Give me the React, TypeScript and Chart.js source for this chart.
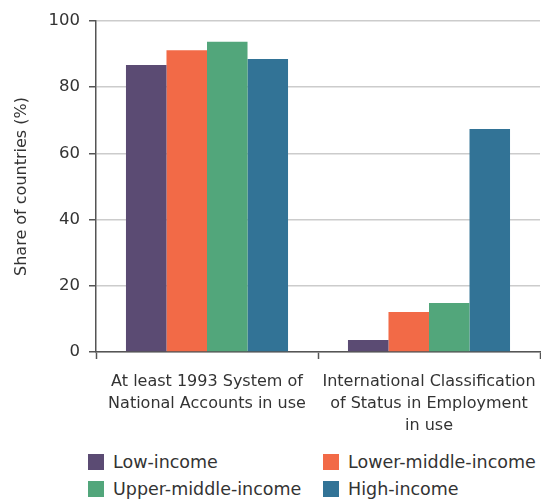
import React, { useEffect, useRef } from "react";
import { Chart, registerables } from "chart.js";
Chart.register(...registerables);

const categories: string[][] = [
  ["At least 1993 System of", "National Accounts in use"],
  ["International Classification", "of Status in Employment", "in use"],
];
const seriesNames = ["Low-income", "Lower-middle-income", "Upper-middle-income", "High-income"];
const lowIncome = [86.7, 3.6];
const lowerMiddle = [91.2, 12.1];
const upperMiddle = [93.7, 14.8];
const highIncome = [88.5, 67.4];
const colors = ["#5B4B73", "#F26A47", "#52A67B", "#327396"];
const yTicks = [0, 20, 40, 60, 80, 100];

const FONT = "DejaVu Sans";
const TEXT = "#333333";

export default function App() {
  const ref = useRef<HTMLCanvasElement | null>(null);
  useEffect(() => {
    if (!ref.current) return;
    const values = [lowIncome, lowerMiddle, upperMiddle, highIncome];
    const chart = new Chart(ref.current, {
      type: "bar",
      data: {
        labels: categories,
        datasets: seriesNames.map((n, i) => ({
          label: n,
          data: values[i],
          backgroundColor: colors[i],
          borderWidth: 0,
          categoryPercentage: 0.73,
          barPercentage: 1.0,
        })),
      },
      options: {
        animation: false,
        responsive: false,
        maintainAspectRatio: false,
        layout: { padding: { top: 21, right: 1, left: 0, bottom: 0 } },
        plugins: { legend: { display: false }, tooltip: { enabled: false } },
        scales: {
          x: {
            afterFit: (axis: any) => {
              axis.height = 88;
              axis.paddingLeft = 0;
              axis.paddingRight = 0;
            },
            grid: { display: true, drawOnChartArea: false, drawTicks: true, tickLength: 7, tickColor: "#555", tickWidth: 1.5 },
            border: { color: "#555", width: 1.5 },
            ticks: { color: TEXT, font: { family: FONT, size: 16, lineHeight: 1.37 }, padding: 12, maxRotation: 0, autoSkip: false },
          },
          y: {
            min: 0,
            max: 100,
            afterBuildTicks: (axis: any) => {
              axis.ticks = yTicks.map((v) => ({ value: v }));
            },
            afterFit: (axis: any) => {
              axis.width = 96;
            },
            grid: { color: "#cccccc", lineWidth: 1.5, tickLength: 7, tickColor: "#555", tickWidth: 1.5 },
            border: { color: "#555", width: 1.5 },
            ticks: { color: TEXT, font: { family: FONT, size: 16.5 }, padding: 9 },
            title: { display: true, text: "Share of countries (%)", color: TEXT, font: { family: FONT, size: 16 }, padding: { top: 12, bottom: 0 } },
          },
        },
      },
    });
    return () => chart.destroy();
  }, []);

  return (
    <div style={{ position: "absolute", left: 0, top: 0, width: 541, height: 500, background: "#fff" }}>
      <canvas ref={ref} width={541} height={440} style={{ display: "block", width: 541, height: 440 }} />
      <div
        style={{
          position: "absolute",
          left: 88,
          top: 452,
          display: "grid",
          gridTemplateColumns: "235px auto",
          rowGap: 7,
          fontFamily: FONT,
          fontSize: 17.5,
          color: TEXT,
        }}
      >
        {seriesNames.map((n, i) => (
          <div key={n} style={{ display: "flex", alignItems: "center", height: 20 }}>
            <span style={{ display: "inline-block", width: 16, height: 16, background: colors[i], marginRight: 9 }} />
            <span>{n}</span>
          </div>
        ))}
      </div>
    </div>
  );
}
